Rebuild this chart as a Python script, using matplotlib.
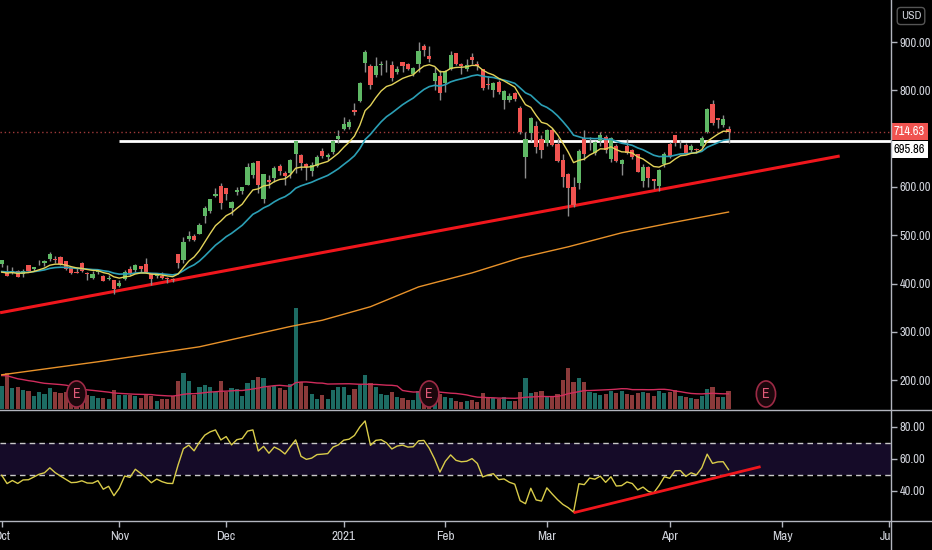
"""
TSLA daily chart, Oct 2020 - Apr 2021, in a dark trading-terminal style:
candles + EMAs + 200 SMA + volume overlay on top, RSI pane below.
"""

import numpy as np
import pandas as pd
import matplotlib

matplotlib.use("Agg")
from matplotlib import pyplot as plt
from matplotlib import font_manager
from matplotlib import transforms
from matplotlib.lines import Line2D
from matplotlib.patches import Ellipse, Rectangle

# ---------------------------------------------------------------- data
# warm-up bars (Sep 2020) only feed the indicators, they are not drawn
warm_close = [475.05, 447.37, 407.00, 418.32, 330.21, 366.28, 371.34, 372.72, 419.62, 449.76, 441.76,
              423.43, 442.15, 449.39, 424.23, 380.36, 387.79, 407.34, 421.20, 419.07, 429.01]
warm_volume = [90.1, 96.2, 87.6, 110.3, 115.5, 79.5, 84.9, 60.7, 83.0, 72.3, 64.6,
               55.4, 53.2, 63.3, 80.9, 95.1, 96.6, 67.2, 49.7, 50.2, 48.1]

# Oct 1 2020 .. Apr 19 2021, one value per trading day
open_ = [
    440.76, 421.39, 423.35, 425.30, 419.87, 438.44, 430.13, 442.00, 443.35, 449.78, 450.31,
    454.44, 446.24, 431.75, 422.70, 441.92, 421.84, 411.63, 423.76, 416.48, 409.96, 406.90,
    394.00, 409.73, 430.62, 428.30, 436.10, 439.50, 420.09, 416.45, 415.05, 410.85,
    408.93, 460.17, 448.35, 492.00, 497.99, 503.50, 540.40, 550.06, 581.16, 602.21,
    597.59, 556.44, 590.02, 591.01, 604.92, 625.51, 653.69, 574.37, 615.01, 619.00, 643.28,
    628.23, 628.19, 668.90, 666.24, 648.00, 632.20, 642.99, 674.51, 661.00, 672.00, 699.99,
    719.46, 723.66, 758.49, 777.63, 856.00, 849.40, 831.00, 852.76, 843.39, 852.00,
    837.80, 858.74, 855.00, 834.31, 855.00, 891.38, 870.35, 820.00, 830.00,
    814.29, 844.68, 877.02, 855.00, 845.00, 869.67, 855.12, 843.64, 812.44, 801.26,
    818.00, 779.09, 780.90, 795.00, 762.64, 662.13, 711.85, 726.15, 700.00,
    690.11, 718.28, 687.99, 655.80, 626.06, 600.55, 608.18, 700.30, 699.40, 670.00, 694.09, 703.35,
    656.87, 684.29, 646.60, 684.59, 675.77, 667.91, 613.00, 641.87, 615.64, 601.75, 646.62,
    688.37, 707.71, 690.30, 687.00, 677.38, 677.77, 685.70, 712.70, 770.70, 743.10, 728.65, 719.60,
]
high = [
    448.88, 439.13, 433.64, 428.00, 429.90, 439.00, 434.59, 448.74, 448.89, 465.90, 456.57,
    455.95, 447.00, 431.75, 432.95, 445.23, 422.89, 425.76, 430.50, 418.60, 418.06, 407.59,
    406.98, 427.77, 435.40, 440.00, 436.57, 452.50, 420.09, 418.70, 423.00, 412.53,
    412.45, 462.00, 496.00, 508.61, 502.50, 526.00, 559.99, 574.00, 598.78, 607.80,
    597.85, 571.54, 598.97, 599.04, 648.79, 651.28, 654.32, 627.75, 624.00, 642.75, 646.90,
    632.50, 658.82, 695.00, 668.50, 649.88, 651.50, 666.09, 681.40, 669.90, 696.60, 718.72,
    744.49, 740.84, 774.00, 816.99, 884.49, 854.43, 868.00, 860.47, 863.00, 859.90,
    850.00, 859.50, 855.72, 848.00, 900.40, 895.90, 891.50, 848.00, 842.41,
    842.00, 880.50, 878.08, 856.50, 864.77, 877.77, 859.80, 844.82, 829.88, 817.33,
    821.00, 799.84, 794.69, 796.79, 768.50, 713.61, 745.00, 737.21, 706.70,
    719.00, 721.11, 700.70, 668.45, 627.84, 620.13, 678.09, 717.85, 702.50, 694.88, 713.18, 707.92,
    703.73, 689.23, 657.23, 699.62, 677.80, 668.02, 646.84, 643.82, 616.48, 637.66, 672.00,
    692.42, 708.16, 696.55, 691.38, 689.55, 680.97, 704.80, 763.00, 780.79, 743.69, 749.41, 725.40,
]
low = [
    434.42, 415.00, 419.33, 413.90, 413.85, 425.30, 426.46, 438.58, 436.60, 447.35, 442.50,
    438.85, 428.87, 419.05, 421.25, 424.51, 407.38, 410.00, 420.10, 406.00, 406.46, 379.11,
    392.30, 406.69, 417.10, 424.00, 424.28, 421.00, 396.03, 410.58, 409.52, 401.66,
    404.09, 433.01, 443.50, 487.57, 489.06, 501.79, 526.20, 545.37, 578.45, 554.51,
    572.05, 541.21, 582.43, 585.50, 603.05, 618.50, 588.00, 566.34, 596.80, 610.20, 623.80,
    605.00, 619.50, 628.54, 635.52, 614.23, 622.57, 641.00, 660.80, 655.00, 668.36, 691.12,
    717.19, 719.20, 749.10, 775.20, 838.39, 803.62, 827.34, 832.00, 838.75, 819.10,
    833.00, 837.28, 841.42, 828.62, 838.82, 871.60, 858.66, 801.00, 780.10,
    795.56, 842.20, 853.06, 833.42, 838.97, 854.75, 841.75, 800.02, 801.73, 785.33,
    792.44, 762.01, 776.27, 777.37, 710.20, 619.00, 694.17, 670.58, 659.51,
    685.05, 685.00, 651.71, 600.00, 539.49, 558.79, 595.21, 655.06, 677.18, 666.14, 684.04, 671.00,
    651.01, 652.00, 624.62, 668.75, 657.51, 630.11, 600.00, 599.89, 596.02, 591.01, 641.11,
    659.42, 684.70, 681.37, 667.84, 671.65, 669.43, 682.09, 710.66, 728.03, 721.31, 724.60, 691.80,
]
close = [
    448.16, 415.09, 425.68, 413.98, 425.30, 425.92, 434.00, 442.30, 446.65, 461.30, 448.88,
    439.67, 430.83, 421.94, 422.64, 425.79, 420.63, 420.28, 424.68, 406.02, 410.83, 388.04,
    400.51, 423.90, 420.98, 438.09, 429.95, 421.26, 410.36, 417.13, 411.76, 408.50,
    408.09, 441.61, 486.64, 499.27, 489.61, 521.85, 555.38, 574.00, 585.76, 567.60,
    584.76, 568.82, 593.38, 599.04, 641.76, 649.88, 604.48, 627.07, 609.99, 639.83, 633.25,
    622.77, 655.90, 695.00, 649.86, 640.34, 645.98, 661.77, 663.69, 665.99, 694.78, 705.67,
    729.77, 735.11, 755.98, 816.04, 880.02, 811.19, 849.44, 854.41, 845.00, 826.16,
    844.55, 850.45, 844.99, 846.64, 880.80, 883.09, 864.16, 835.43, 793.53,
    839.81, 872.79, 854.69, 849.99, 852.23, 863.42, 849.46, 804.82, 811.66, 816.12,
    796.22, 798.15, 787.38, 781.30, 714.50, 698.84, 742.02, 682.22, 675.50,
    718.43, 686.44, 653.20, 621.44, 597.95, 563.00, 673.58, 668.06, 699.60, 693.73, 707.94, 676.88,
    701.81, 653.16, 654.87, 670.00, 662.16, 630.27, 640.39, 618.71, 611.29, 635.62, 667.93,
    661.75, 691.05, 691.62, 670.97, 683.80, 677.02, 701.98, 762.32, 732.23, 738.85, 739.78, 714.63,
]
# millions of shares
volume = [
    51, 79, 46, 48, 42, 40, 29, 37, 33, 46, 37, 35, 37, 33, 33, 35, 31, 29, 24, 24, 22, 42,
    31, 31, 31, 29, 24, 31, 29, 18, 22, 22, 29, 62, 79, 62, 31, 48, 53, 48, 37, 62,
    37, 46, 44, 29, 57, 64, 70, 68, 48, 51, 46, 42, 55, 222, 59, 51, 33, 22, 31, 22, 42, 48,
    48, 31, 44, 53, 75, 57, 48, 33, 31, 37, 26, 24, 20, 20, 40, 22, 26, 26, 33,
    26, 24, 18, 15, 18, 20, 15, 35, 24, 24, 22, 26, 18, 18, 37, 68, 35, 37, 40,
    26, 26, 33, 64, 90, 59, 68, 59, 37, 35, 31, 33, 40, 35, 40, 33, 31, 35, 37, 35, 29, 40, 35,
    37, 42, 29, 26, 24, 22, 29, 44, 48, 26, 26, 40,
]

# 200-day SMA at a handful of bars
sma200_idx = [0, 18, 37, 54, 60, 69, 78, 88, 97, 106, 116, 125, 136]
sma200_val = [211, 238, 269, 311, 324, 352, 393, 422, 453, 476, 505, 525, 548]

# hand-drawn lines
trend_idx = [-0.3, 156.8]
trend_val = [339.5, 664.0]
support_level = 695.86
support_start = 22
rsi_trend_idx = [107, 142]
rsi_trend_val = [26.4, 55.2]

earnings_idx = [14, 80, 143]
month_idx = [0, 22, 42, 64, 83, 102, 125, 146, 166]
month_labels = ["Oct", "Nov", "Dec", "2021", "Feb", "Mar", "Apr", "May", "Jun"]
price_ticks = [200, 300, 400, 500, 600, 800, 900]
rsi_ticks = [40, 60, 80]


# ---------------------------------------------------------------- indicators
def rsi(values, length=14):
    delta = np.diff(np.asarray(values, dtype=float))
    gain = np.clip(delta, 0, None)
    loss = np.clip(-delta, 0, None)
    ag = np.full(len(delta), np.nan)
    al = np.full(len(delta), np.nan)
    ag[length - 1] = gain[:length].mean()
    al[length - 1] = loss[:length].mean()
    for i in range(length, len(delta)):
        ag[i] = (ag[i - 1] * (length - 1) + gain[i]) / length
        al[i] = (al[i - 1] * (length - 1) + loss[i]) / length
    out = 100 - 100 / (1 + ag / al)
    return np.concatenate([[np.nan], out])


n_warm = len(warm_close)
all_close = pd.Series(warm_close + close)
ema_fast = all_close.ewm(span=9, adjust=False).mean().to_numpy()[n_warm:]
ema_slow = all_close.ewm(span=20, adjust=False).mean().to_numpy()[n_warm:]
rsi_vals = rsi(warm_close + close)[n_warm:]
vol_ma = pd.Series(warm_volume + volume).rolling(20).mean().to_numpy()[len(warm_volume):]

o = np.array(open_)
h = np.array(high)
l = np.array(low)
c = np.array(close)
v = np.array(volume)
idx = np.arange(len(c))
up = c >= o


# ---------------------------------------------------------------- style
def pick_font():
    """A narrow face looks closest to the squeezed screenshot; fall back to Arial-like."""
    names = {f.name for f in font_manager.fontManager.ttflist}
    if "Liberation Sans Narrow" in names:
        return "Liberation Sans Narrow", 9.5
    for n in sorted(names):
        if "Narrow" in n or "Condensed" in n:
            return n, 9.0
    return "Liberation Sans", 7.5


FONT, FS = pick_font()
plt.rcParams["font.family"] = [FONT, "DejaVu Sans"]

BG = "black"
TXT = "#d1d4dc"
SEP = "#b2b5be"
GREEN = "#5fb865"
RED = "#ef5350"
WICK = "#8c8c8c"

W, H = 932, 550
axis_x = 891
main_bottom = 409
rsi_top, rsi_bottom = 410, 521
xlim = (-0.32, 166.4)
price_lim = (140.2, 987.0)


def rect(top, bottom):
    return [0, 1 - bottom / H, axis_x / W, (bottom - top) / H]


fig = plt.figure(figsize=(W / 100, H / 100), dpi=100, facecolor=BG)
ax_vol = fig.add_axes(rect(0, main_bottom))
ax = fig.add_axes(rect(0, main_bottom))
ax_rsi = fig.add_axes(rect(rsi_top, rsi_bottom))

for a in (ax_vol, ax, ax_rsi):
    a.set_facecolor(BG)
    a.set_xlim(*xlim)
    for s in a.spines.values():
        s.set_visible(False)
ax.patch.set_visible(False)

# ---------------------------------------------------------------- volume
ax_vol.set_ylim(0, 222 * main_bottom / 101)
ax_vol.bar(idx, v, width=0.78, color=np.where(up, "#1d6b63", "#8b3a3a"), linewidth=0)
ax_vol.plot(idx, vol_ma, color="#d02c5c", lw=1)
ax_vol.set_xticks([])
ax_vol.set_yticks([])

# ---------------------------------------------------------------- price
ax.set_ylim(*price_lim)
ax.plot(sma200_idx, sma200_val, color="#e8922a", lw=1)
ax.plot(trend_idx, trend_val, color="#f0161c", lw=2.2, solid_capstyle="butt")
ax.axhline(c[-1], color="#a03a3a", lw=1, ls=(0, (1, 2)))
ax.hlines(support_level, support_start, xlim[1], color="white", lw=2)

ax.vlines(idx, l, h, color=WICK, lw=1, zorder=3)
body = np.maximum(np.abs(c - o), 1.2)
ax.bar(idx, body, bottom=np.minimum(o, c), width=0.78,
       color=np.where(up, GREEN, RED), linewidth=0, zorder=4)

ax.plot(idx, ema_slow, color="#2b9fb5", lw=1.2, zorder=5)
ax.plot(idx, ema_fast, color="#e3d35a", lw=1, zorder=5)

# earnings markers
e_y = price_lim[0] + (main_bottom - 394) / main_bottom * (price_lim[1] - price_lim[0])
for e in earnings_idx:
    ax.add_patch(Ellipse((e, e_y), 3.6, 54, facecolor="#1c070c", edgecolor="#9c2a45", lw=1.2, zorder=6))
    ax.text(e, e_y, "E", color="#e05a78", fontsize=FS + 1, ha="center", va="center", zorder=7)

ax.set_xticks([])
ax.yaxis.tick_right()
ax.set_yticks(price_ticks)
ax.set_yticklabels([f"{t:.2f}" for t in price_ticks])
ax.tick_params(axis="y", color=SEP, labelcolor=TXT, length=4, width=1, pad=2, labelsize=FS)

blend = transforms.blended_transform_factory(ax.transAxes, ax.transData)
ax.annotate(f"{c[-1]:.2f}", xy=(1, c[-1]), xycoords=blend, xytext=(3, 0), textcoords="offset pixels",
            ha="left", va="center", color="white", fontsize=FS, annotation_clip=False,
            bbox=dict(boxstyle="square,pad=0.22", fc="#f05350", ec="none"))
ax.annotate(f"{support_level:.2f}", xy=(1, support_level), xycoords=blend, xytext=(3, -9),
            textcoords="offset pixels", ha="left", va="center", color="black", fontsize=FS,
            annotation_clip=False, bbox=dict(boxstyle="square,pad=0.22", fc="white", ec="none"))

# ---------------------------------------------------------------- RSI
ax_rsi.set_ylim(21.25, 90.6)
ax_rsi.axhspan(50, 70, color="#150b28", lw=0)
for lvl in (50, 70):
    ax_rsi.axhline(lvl, color="#c8c8c8", lw=1, ls=(0, (4, 3)))
ax_rsi.plot(idx, rsi_vals, color="#d9cc4a", lw=1)
ax_rsi.plot(rsi_trend_idx, rsi_trend_val, color="#f0161c", lw=2, solid_capstyle="butt")

ax_rsi.yaxis.tick_right()
ax_rsi.set_yticks(rsi_ticks)
ax_rsi.set_yticklabels([f"{t:.2f}" for t in rsi_ticks])
ax_rsi.set_xticks(month_idx)
ax_rsi.set_xticklabels(month_labels)
ax_rsi.tick_params(axis="both", color=SEP, labelcolor=TXT, length=4, width=1, labelsize=FS)
ax_rsi.tick_params(axis="x", pad=3, labelsize=FS + 0.5)
ax_rsi.tick_params(axis="y", pad=2)

# ---------------------------------------------------------------- frame
fig.add_artist(Rectangle(((axis_x + 0.5) / W, 0), (W - axis_x) / W, (H - rsi_bottom - 1) / H,
                         transform=fig.transFigure, facecolor=BG, edgecolor="none", zorder=10))
fig.add_artist(Line2D([axis_x / W] * 2, [0, 1], color=SEP, lw=1, zorder=11))
fig.add_artist(Line2D([0, 1], [1 - (main_bottom + 0.5) / H] * 2, color=SEP, lw=1, zorder=11))
fig.add_artist(Line2D([0, 1], [1 - rsi_bottom / H] * 2, color=SEP, lw=1, zorder=11))

fig.text(911 / W, 1 - 16 / H, "USD", ha="center", va="center", color=TXT, fontsize=FS - 0.5,
         bbox=dict(boxstyle="round,pad=0.3", fc=BG, ec="#555555"))

fig.savefig("out.png", dpi=100, facecolor=BG)
